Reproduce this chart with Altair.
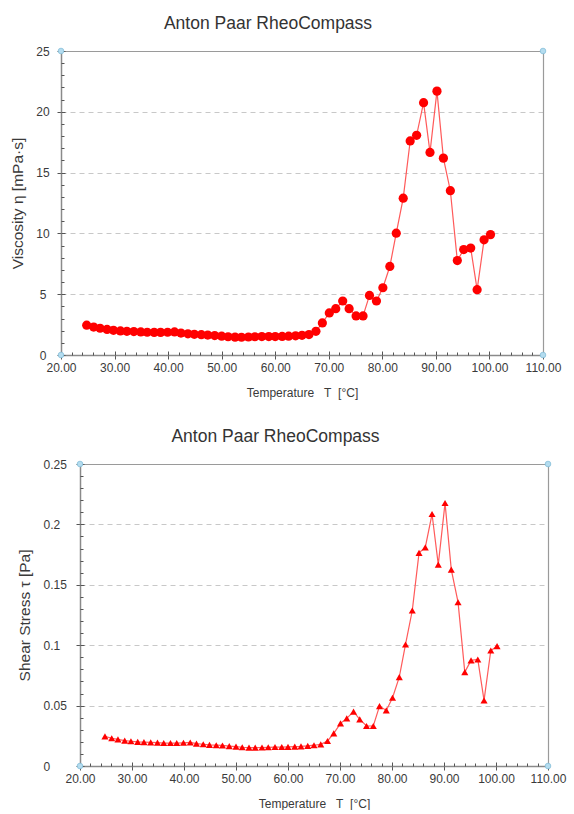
import altair as alt
import pandas as pd

# ---------------- data ----------------
temperature = [24.8, 26.1, 27.3, 28.6, 29.8, 31.1, 32.3, 33.6, 34.9, 36.1, 37.4,
               38.6, 39.9, 41.2, 42.4, 43.7, 44.9, 46.2, 47.4, 48.7, 50.0, 51.2,
               52.5, 53.7, 55.0, 56.2, 57.5, 58.8, 60.0, 61.3, 62.5, 63.8, 65.0,
               66.3, 67.6, 68.8, 70.1, 71.3, 72.6, 73.8, 75.1, 76.4, 77.6, 78.9,
               80.1, 81.4, 82.6, 83.9, 85.2, 86.4, 87.7, 88.9, 90.2, 91.4, 92.7,
               94.0, 95.2, 96.5, 97.7, 99.0, 100.2]

viscosity = [2.45, 2.30, 2.20, 2.10, 2.03, 1.98, 1.95, 1.93, 1.90, 1.87, 1.86,
             1.86, 1.87, 1.90, 1.80, 1.74, 1.70, 1.67, 1.64, 1.60, 1.55, 1.50,
             1.47, 1.46, 1.48, 1.50, 1.52, 1.52, 1.52, 1.53, 1.55, 1.58, 1.62,
             1.68, 1.95, 2.64, 3.46, 3.81, 4.44, 3.81, 3.21, 3.21, 4.90, 4.44,
             5.53, 7.28, 10.02, 12.90, 17.60, 18.07, 20.75, 16.66, 21.70, 16.19, 13.51,
             7.77, 8.67, 8.79, 5.37, 9.47, 9.90]

shear_stress = [0.0245, 0.0230, 0.0220, 0.0210, 0.0205, 0.0200, 0.0198, 0.0196, 0.0193, 0.0190, 0.0190,
                0.0190, 0.0192, 0.0195, 0.0185, 0.0180, 0.0175, 0.0172, 0.0170, 0.0165, 0.0160, 0.0155,
                0.0152, 0.0152, 0.0153, 0.0155, 0.0157, 0.0157, 0.0158, 0.0160, 0.0162, 0.0167, 0.0172,
                0.0179, 0.0207, 0.0270, 0.0353, 0.0394, 0.0450, 0.0386, 0.0331, 0.0331, 0.0496, 0.0460,
                0.0565, 0.0736, 0.1006, 0.1287, 0.1764, 0.1810, 0.2086, 0.1667, 0.2177, 0.1626, 0.1356,
                0.0777, 0.0874, 0.0882, 0.0543, 0.0956, 0.0992]

x_ticks = [20, 30, 40, 50, 60, 70, 80, 90, 100, 110]
x_minor = [22, 24, 26, 28, 32, 34, 36, 38, 42, 44, 46, 48, 52, 54, 56, 58, 62, 64, 66, 68,
           72, 74, 76, 78, 82, 84, 86, 88, 92, 94, 96, 98, 102, 104, 106, 108]
visc_ticks = [0, 5, 10, 15, 20, 25]
visc_minor = [1, 2, 3, 4, 6, 7, 8, 9, 11, 12, 13, 14, 16, 17, 18, 19, 21, 22, 23, 24]
stress_ticks = [0, 0.05, 0.1, 0.15, 0.2, 0.25]
stress_minor = [0.01, 0.02, 0.03, 0.04, 0.06, 0.07, 0.08, 0.09, 0.11, 0.12, 0.13, 0.14,
                0.16, 0.17, 0.18, 0.19, 0.21, 0.22, 0.23, 0.24]

NB = "\u00a0"
chart_title = "Anton Paar RheoCompass"
x_title = "Temperature" + NB * 3 + "T" + NB * 2 + "[°C]"
visc_title = "Viscosity" + NB + "η" + NB + "[mPa·s]"
stress_title = "Shear Stress" + NB + "τ" + NB + "[Pa]"

df = pd.DataFrame({"T": temperature, "eta": viscosity, "tau": shear_stress})

FONT = "Liberation Sans"
RED = "#ff0000"
LINE_RED = "#ff5a5a"
GRAY = "#8a8a8a"
FRAME = "#9a9a9a"
TXT = "#3a3a3a"
TICK = "#555555"


def bare_axis(values, orient, offset, size):
    return alt.Axis(values=values, orient=orient, offset=offset, tickSize=size,
                    labels=False, domain=False, grid=False, title=None,
                    tickColor=TICK)


def frame_axis(orient):
    return alt.Axis(orient=orient, ticks=False, labels=False, grid=False, title=None,
                    domain=True, domainColor=FRAME, domainWidth=1.2)


def panel(field, y_title, y_ticks, y_minor, y_fmt, shape, size, width, height,
          x_start, title_dx, y_label_align, y_label_pad, y_title_pad):
    y_dom = [y_ticks[0], y_ticks[-1]]
    x_dom = [x_ticks[0], x_ticks[-1]]
    xs = alt.Scale(domain=x_dom, nice=False, zero=False, range=[x_start, width])
    ys = alt.Scale(domain=y_dom, nice=False, zero=False)

    corners = pd.DataFrame({"T": [x_dom[0], x_dom[1], x_dom[0], x_dom[1]],
                            "v": [y_dom[0], y_dom[0], y_dom[1], y_dom[1]]})

    main_x = alt.Axis(values=x_ticks, format=".2f", grid=False, orient="bottom",
                      title=x_title, titleFont=FONT, titleFontSize=12,
                      titleFontWeight="normal", titleColor=TXT, titlePadding=14,
                      labelFont=FONT, labelFontSize=12, labelColor=TXT,
                      labelPadding=3, tickSize=4, tickColor=TICK,
                      domainColor=GRAY, domainWidth=1.5, labelFlush=False)
    main_y = alt.Axis(values=y_ticks, format=y_fmt, grid=True, orient="left",
                      offset=-x_start,
                      gridColor="#c8c8c8", gridDash=[5, 4], gridWidth=1,
                      title=y_title, titleFont=FONT, titleFontSize=15.5,
                      titleFontWeight="normal", titleColor=TXT,
                      titlePadding=y_title_pad,
                      labelFont=FONT, labelFontSize=12, labelColor=TXT,
                      labelAlign=y_label_align, labelPadding=y_label_pad,
                      tickSize=4, tickColor=TICK,
                      domainColor=GRAY, domainWidth=1.5, labelFlush=False)

    frame = alt.Chart(corners).mark_point(opacity=0).encode(
        x=alt.X("T:Q", scale=xs, axis=frame_axis("top")),
        y=alt.Y("v:Q", scale=ys, axis=frame_axis("right")),
    )
    line = alt.Chart(df).mark_line(color=LINE_RED, strokeWidth=1.2).encode(
        x=alt.X("T:Q", scale=xs, axis=main_x),
        y=alt.Y(f"{field}:Q", scale=ys, axis=main_y),
    )
    pts = alt.Chart(df).mark_point(shape=shape, filled=True, color=RED,
                                   size=size, opacity=1).encode(
        x=alt.X("T:Q", scale=xs, axis=bare_axis(x_minor, "bottom", -3, 3)),
        y=alt.Y(f"{field}:Q", scale=ys, axis=bare_axis(y_minor, "left", -x_start - 3, 3)),
    )
    corner = alt.Chart(corners).mark_point(shape="circle", filled=True, fill="#b4dcef",
                                           stroke="#86bfd9", strokeWidth=0.8,
                                           size=32, opacity=1, clip=False).encode(
        x=alt.X("T:Q", scale=xs, axis=bare_axis(x_ticks, "bottom", -4, 4)),
        y=alt.Y("v:Q", scale=ys, axis=bare_axis(y_ticks, "left", -x_start - 4, 4)),
    )
    return alt.layer(frame, line, pts, corner).resolve_axis(
        x="independent", y="independent"
    ).properties(
        width=width, height=height,
        title=alt.TitleParams(chart_title, font=FONT, fontSize=17.5, fontWeight="normal",
                              color="#333333", dx=title_dx, offset=13),
    )


top = panel("eta", visc_title, visc_ticks, visc_minor, "d", "circle", 85,
            482, 304, 0, -34, "center", 14.5, 10.3)
bottom = panel("tau", stress_title, stress_ticks, stress_minor, "~g", "triangle-up", 50,
               487, 302, 19, -29, "left", 33, 10.25)

chart = alt.vconcat(top, bottom, spacing=28).properties(
    padding={"left": 10, "top": 14, "right": 2, "bottom": 0},
    background="white",
).configure_view(stroke="transparent")

chart.save("out.html", embed_options={"renderer": "svg", "actions": False})
